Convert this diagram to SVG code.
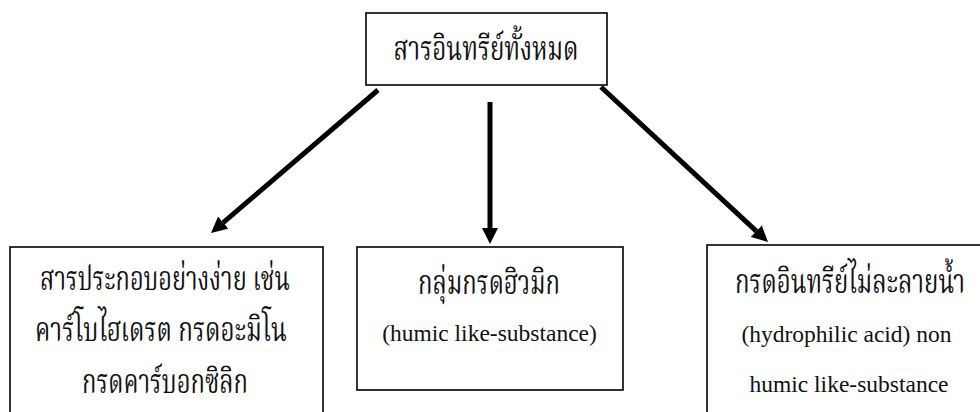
<svg xmlns="http://www.w3.org/2000/svg" width="980" height="412" viewBox="0 0 980 412">
<style>
.box{fill:#fff;stroke:#000;stroke-width:1.6}
.th{font-family:"Noto Serif Thai","Noto Sans Thai","Liberation Serif",serif;font-size:33px;fill:#111;text-anchor:middle}
.en{font-family:"Liberation Serif","Times New Roman",serif;font-size:23.5px;fill:#111;text-anchor:middle}
.arr{stroke:#000;stroke-width:5;fill:none}
</style>
<defs>
<marker id="ah" markerUnits="userSpaceOnUse" markerWidth="16" markerHeight="16" viewBox="0 0 16 16" refX="0" refY="8" orient="auto">
<path d="M0,0 L16,8 L0,16 z" fill="#000"/>
</marker>
</defs>
<rect width="980" height="412" fill="#fff"/>
<g id="connectors">
<line class="arr" x1="378" y1="90" x2="223.2" y2="222.6" marker-end="url(#ah)"/>
<line class="arr" x1="490" y1="102" x2="490" y2="228" marker-end="url(#ah)"/>
<line class="arr" x1="601" y1="87" x2="756.3" y2="231.1" marker-end="url(#ah)"/>
</g>
<g id="top">
<rect class="box" x="366" y="13" width="241" height="72"/>
<text class="th" x="486" y="60" textLength="185" lengthAdjust="spacingAndGlyphs">สารอินทรีย์ทั้งหมด</text>
</g>
<g id="left">
<rect class="box" x="10" y="247" width="313" height="200"/>
<text class="th" x="165" y="290" textLength="250" lengthAdjust="spacingAndGlyphs">สารประกอบอย่างง่าย เช่น</text>
<text class="th" x="161" y="341" textLength="252" lengthAdjust="spacingAndGlyphs">คาร์โบไฮเดรต กรดอะมิโน</text>
<text class="th" x="165" y="393" textLength="166" lengthAdjust="spacingAndGlyphs">กรดคาร์บอกซิลิก</text>
</g>
<g id="middle">
<rect class="box" x="357" y="247" width="266" height="143"/>
<text class="th" x="489" y="294" textLength="142" lengthAdjust="spacingAndGlyphs">กลุ่มกรดฮิวมิก</text>
<text class="en" x="489.5" y="341">(humic like-substance)</text>
</g>
<g id="right">
<rect class="box" x="707" y="245" width="300" height="200"/>
<text class="th" x="850" y="293" textLength="230" lengthAdjust="spacingAndGlyphs">กรดอินทรีย์ไม่ละลายน้ำ</text>
<text class="en" x="846.5" y="342">(hydrophilic acid) non</text>
<text class="en" x="849" y="392">humic like-substance</text>
</g>
</svg>
